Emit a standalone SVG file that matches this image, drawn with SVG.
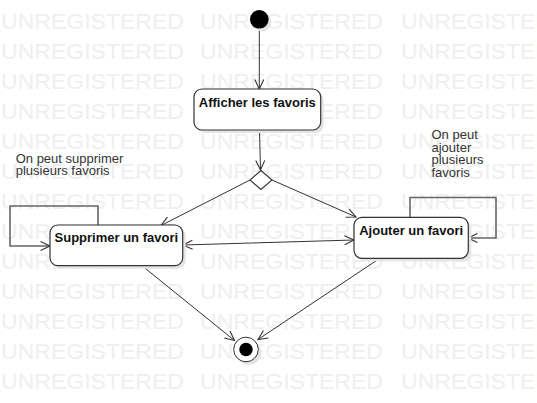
<svg xmlns="http://www.w3.org/2000/svg" xmlns:xlink="http://www.w3.org/1999/xlink" width="537" height="403" viewBox="0 0 537 403">
<style>
.wm{font-family:"Liberation Sans",Arial,sans-serif;font-size:22px;fill:#efefef}
.box{fill:#fff;stroke:#333;stroke-width:1.2}
.sh{fill:#e4e4e4}
.lbl{font-family:"Liberation Sans",Arial,sans-serif;font-size:13px;font-weight:bold;fill:#111;text-anchor:middle}
.note{font-family:"Liberation Sans",Arial,sans-serif;font-size:13px;fill:#333}
.edge{fill:none;stroke:#333;stroke-width:1;marker-end:url(#arr)}
.loop{fill:none;stroke:#666;stroke-width:1.6;marker-end:url(#arr)}
</style>
<defs>
<marker id="arr" markerUnits="userSpaceOnUse" markerWidth="12" markerHeight="12" refX="10" refY="5" orient="auto-start-reverse" viewBox="0 0 12 10">
<path d="M0.5,0.5 L10,5 L0.5,9.5" fill="none" stroke="#333" stroke-width="1.1"/>
</marker>
<g id="wmrow">
<text class="wm" x="1" y="0" textLength="183" lengthAdjust="spacingAndGlyphs">UNREGISTERED</text>
<text class="wm" x="200" y="0" textLength="183" lengthAdjust="spacingAndGlyphs">UNREGISTERED</text>
<text class="wm" x="401" y="0" textLength="183" lengthAdjust="spacingAndGlyphs">UNREGISTERED</text>
</g>
</defs>
<rect width="537" height="403" fill="#fff"/>
<g id="watermark">
<use xlink:href="#wmrow" y="28.7"/>
<use xlink:href="#wmrow" y="58.7"/>
<use xlink:href="#wmrow" y="88.7"/>
<use xlink:href="#wmrow" y="118.7"/>
<use xlink:href="#wmrow" y="148.7"/>
<use xlink:href="#wmrow" y="178.7"/>
<use xlink:href="#wmrow" y="208.7"/>
<use xlink:href="#wmrow" y="238.7"/>
<use xlink:href="#wmrow" y="268.7"/>
<use xlink:href="#wmrow" y="298.7"/>
<use xlink:href="#wmrow" y="328.7"/>
<use xlink:href="#wmrow" y="358.7"/>
<use xlink:href="#wmrow" y="388.7"/>
</g>
<g id="connectors">
<path class="edge" d="M259.3,28.6 L259.3,89"/>
<path class="edge" d="M259.5,130 L260.5,170"/>
<path class="edge" d="M250,180 L161,225.5"/>
<path class="edge" d="M272,180 L356,217"/>
<path class="edge" d="M183,245 L354,240" style="marker-start:url(#arr)"/>
<path class="loop" d="M98,225 V206 H10 V246 H50"/>
<path class="loop" d="M410,217 V197.5 H496 V238 H468"/>
<path class="edge" d="M141.7,265.5 L234.5,340.5"/>
<path class="edge" d="M378.3,259.3 L258,339.5"/>
</g>
<g id="start">
<circle class="sh" cx="262" cy="22" r="9.3"/>
<circle cx="259.3" cy="19.3" r="9.3" fill="#000"/>
</g>
<g id="afficher">
<rect class="sh" x="197" y="92" width="126.7" height="41" rx="8"/>
<rect class="box" x="194" y="89" width="126.7" height="41" rx="8"/>
<text class="lbl" x="257.3" y="107.3">Afficher les favoris</text>
</g>
<g id="decision">
<path d="M261,170.5 L272,180 L261,189.5 L250,180 Z" fill="#fff" stroke="#333" stroke-width="1.1"/>
</g>
<g id="supprimer">
<rect class="sh" x="53" y="228" width="132.7" height="40.7" rx="8"/>
<rect class="box" x="50" y="225" width="132.7" height="40.7" rx="8"/>
<text class="lbl" x="116.3" y="242.3">Supprimer un favori</text>
</g>
<g id="ajouter">
<rect class="sh" x="357" y="220.3" width="114.3" height="41" rx="8"/>
<rect class="box" x="354" y="217.3" width="114.3" height="41" rx="8"/>
<text class="lbl" x="411.2" y="235">Ajouter un favori</text>
</g>
<g id="final">
<circle class="sh" cx="249" cy="352.5" r="12.3"/>
<circle cx="246" cy="349.5" r="12.3" fill="#fff" stroke="#333" stroke-width="1"/>
<circle cx="246" cy="349.5" r="6.7" fill="#000"/>
</g>
<g id="note-supprimer">
<text class="note" x="15.7" y="163.3">On peut supprimer</text>
<text class="note" x="15.7" y="175">plusieurs favoris</text>
</g>
<g id="note-ajouter">
<text class="note" x="431.5" y="139">On peut</text>
<text class="note" x="431.5" y="151.5">ajouter</text>
<text class="note" x="431.5" y="164">plusieurs</text>
<text class="note" x="431.5" y="176.5">favoris</text>
</g>
</svg>
